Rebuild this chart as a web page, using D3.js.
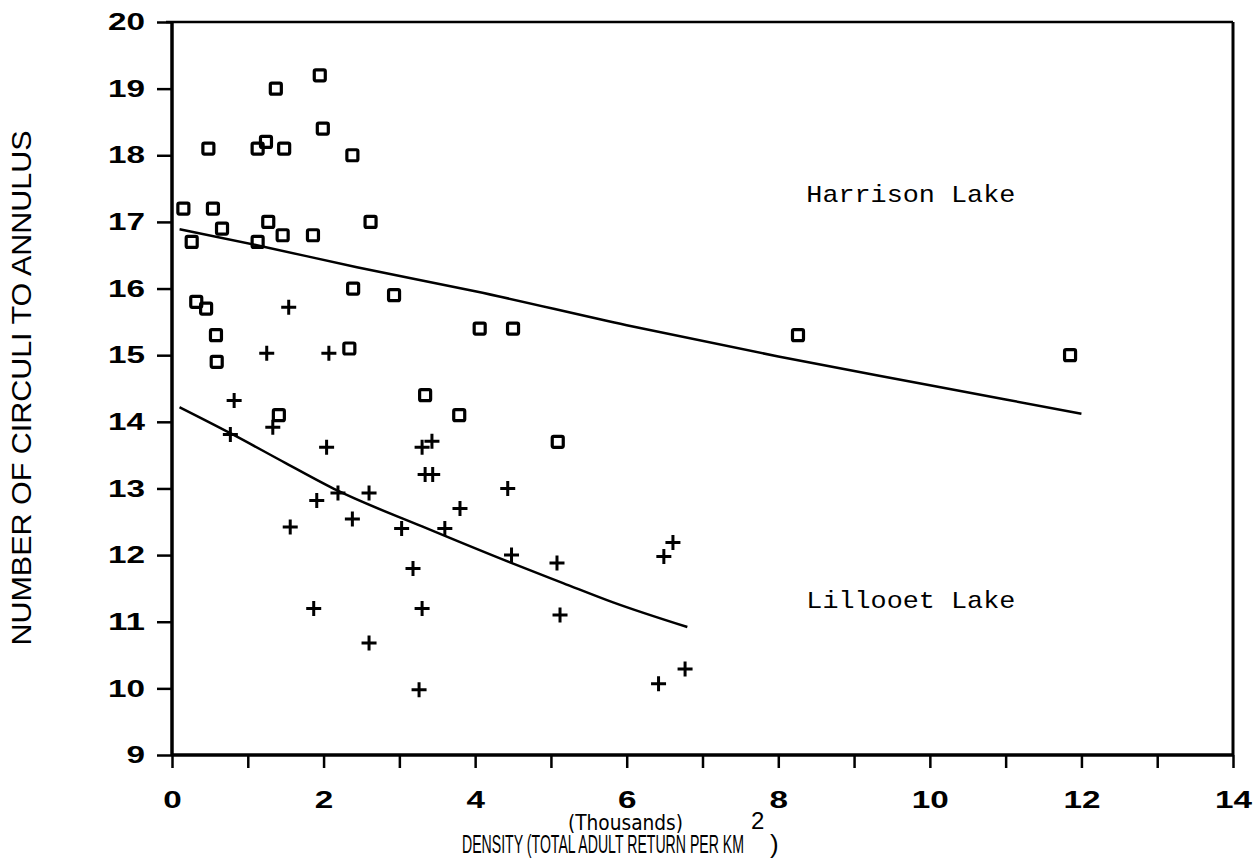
<!DOCTYPE html>
<html>
    <head>
        <script src="https://d3js.org/d3.v7.min.js"></script>
        <style>
            body { margin: 0; background: #fff; }
        </style>
    </head>
    <body>
        <svg class="chart"></svg>
    </body>
    <script>
        // Harrison Lake (squares)
        var harrisonX = [0.15, 0.26, 0.32, 0.45, 0.48, 0.54, 0.58, 0.59, 0.66, 1.13, 1.24, 1.13, 1.27, 1.37, 1.41, 1.48,
                         1.46, 1.86, 1.95, 1.99, 2.38, 2.39, 2.34, 2.62, 2.93, 3.34, 3.79, 4.06, 4.5, 5.09, 8.26, 11.85];
        var harrisonY = [17.2, 16.7, 15.8, 15.7, 18.1, 17.2, 15.3, 14.9, 16.9, 18.1, 18.2, 16.7, 17.0, 19.0, 14.1, 18.1,
                         16.8, 16.8, 19.2, 18.4, 18.0, 16.0, 15.1, 17.0, 15.9, 14.4, 14.1, 15.4, 15.4, 13.7, 15.3, 15.0];

        // Lillooet Lake (crosses)
        var lillooetX = [0.77, 0.82, 1.25, 1.54, 1.33, 2.07, 2.04, 1.91, 2.19, 2.38, 2.6, 1.56, 3.3, 3.43, 3.34, 3.44,
                         3.8, 3.6, 3.03, 3.18, 1.87, 3.3, 2.6, 3.26, 4.48, 5.08, 5.12, 4.43, 6.61, 6.49, 6.77, 6.42];
        var lillooetY = [13.81, 14.32, 15.03, 15.72, 13.92, 15.03, 13.62, 12.82, 12.93, 12.54, 12.93, 12.42, 13.62, 13.71, 13.21, 13.21,
                         12.7, 12.4, 12.4, 11.8, 11.2, 11.2, 10.68, 9.98, 12.0, 11.88, 11.1, 13.0, 12.19, 11.98, 10.29, 10.07];

        // fitted curves
        var harrisonFitX = [0.1, 1.12, 2.44, 4, 6, 8, 10, 12];
        var harrisonFitY = [16.89, 16.65, 16.32, 15.96, 15.45, 14.98, 14.55, 14.12];
        var lillooetFitX = [0.1, 0.77, 1.5, 2.18, 3.3, 4.46, 5.16, 5.82, 6.8];
        var lillooetFitY = [14.22, 13.83, 13.38, 12.97, 12.43, 11.89, 11.58, 11.29, 10.92];

        var xTicks = d3.range(0, 15, 1),
            xLabels = [0, 2, 4, 6, 8, 10, 12, 14],
            yTicks = [9, 10, 11, 12, 13, 14, 15, 16, 17, 18, 19, 20];

        var svgWidth = 1258, svgHeight = 859,
            margin = {top: 22, right: 25, bottom: 104, left: 172},
            width = svgWidth - margin.left - margin.right,
            height = svgHeight - margin.top - margin.bottom;

        var xScale = d3.scaleLinear().domain([0, 14]).range([0, width]),
            yScale = d3.scaleLinear().domain([9, 20]).range([height, 0]);

        var svg = d3.select(".chart")
                    .attr("width", svgWidth)
                    .attr("height", svgHeight);
        var g = svg.append("g")
                    .attr("transform", "translate(" + margin.left + "," + margin.top + ")");

        var tickFont = "'Liberation Sans', Arial, sans-serif";
        var digitW = 18.5;

        // x axis: tick every unit, labels every 2
        var xAxis = d3.axisBottom(xScale).tickValues(xTicks).tickSize(13)
                      .tickFormat(d => xLabels.indexOf(d) >= 0 ? d : "");
        var gx = g.append("g")
            .attr("transform", "translate(0," + height + ")")
            .call(xAxis);
        gx.select(".domain").remove();
        gx.selectAll(".tick line").attr("stroke", "#000").attr("stroke-width", 2.5);
        gx.selectAll(".tick text")
            .attr("y", 36).attr("dy", "0.71em")
            .attr("font-family", tickFont).attr("font-weight", "bold")
            .attr("font-size", 24).attr("fill", "#000")
            .filter(d => xLabels.indexOf(d) >= 0)
            .attr("textLength", d => String(d).length * digitW)
            .attr("lengthAdjust", "spacingAndGlyphs");

        var yAxis = d3.axisLeft(yScale).tickValues(yTicks).tickSize(15).tickPadding(12);
        var gy = g.append("g").call(yAxis);
        gy.select(".domain").remove();
        gy.selectAll(".tick line").attr("stroke", "#000").attr("stroke-width", 2.5);
        gy.selectAll(".tick text")
            .attr("font-family", tickFont).attr("font-weight", "bold")
            .attr("font-size", 24).attr("fill", "#000")
            .attr("textLength", d => String(d).length * digitW)
            .attr("lengthAdjust", "spacingAndGlyphs");

        // frame
        g.append("line").attr("x1", 0).attr("x2", 0).attr("y1", 0).attr("y2", height)
            .attr("stroke", "#000").attr("stroke-width", 3.5);
        g.append("line").attr("x1", 0).attr("x2", width).attr("y1", height).attr("y2", height)
            .attr("stroke", "#000").attr("stroke-width", 3.5);
        g.append("line").attr("x1", width).attr("x2", width).attr("y1", 0).attr("y2", height)
            .attr("stroke", "#000").attr("stroke-width", 3);
        g.append("line").attr("x1", -6).attr("x2", width).attr("y1", 0).attr("y2", 0)
            .attr("stroke", "#000").attr("stroke-width", 2.5);

        // fitted curves
        var line = d3.line()
            .x(d => xScale(d[0]))
            .y(d => yScale(d[1]))
            .curve(d3.curveMonotoneX);

        g.append("path")
            .datum(d3.zip(harrisonFitX, harrisonFitY))
            .attr("d", line)
            .attr("fill", "none").attr("stroke", "#000").attr("stroke-width", 2.5);
        g.append("path")
            .datum(d3.zip(lillooetFitX, lillooetFitY))
            .attr("d", line)
            .attr("fill", "none").attr("stroke", "#000").attr("stroke-width", 2.5);

        // squares
        var sq = 11;
        g.selectAll(".sq")
            .data(d3.zip(harrisonX, harrisonY)).enter().append("rect")
                .attr("class", "sq")
                .attr("x", d => xScale(d[0]) - sq / 2)
                .attr("y", d => yScale(d[1]) - sq / 2)
                .attr("width", sq).attr("height", sq)
                .attr("rx", 1.5)
                .attr("fill", "none").attr("stroke", "#000").attr("stroke-width", 3.2);

        // crosses
        var cr = 7.5;
        g.selectAll(".cross")
            .data(d3.zip(lillooetX, lillooetY)).enter().append("path")
                .attr("class", "cross")
                .attr("d", d => {
                    var cx = xScale(d[0]), cy = yScale(d[1]);
                    return "M" + (cx - cr) + "," + cy + "H" + (cx + cr) +
                           "M" + cx + "," + (cy - cr) + "V" + (cy + cr);
                })
                .attr("fill", "none").attr("stroke", "#000").attr("stroke-width", 3);

        // lake labels
        var labelFont = "'Liberation Mono', 'Courier New', monospace";
        g.append("text")
            .attr("x", xScale(8.37)).attr("y", yScale(17.0) - 20)
            .attr("font-family", labelFont).attr("font-size", 24)
            .attr("textLength", 209).attr("lengthAdjust", "spacingAndGlyphs")
            .text("Harrison Lake");
        g.append("text")
            .attr("x", xScale(8.37)).attr("y", yScale(11.0) - 14)
            .attr("font-family", labelFont).attr("font-size", 24)
            .attr("textLength", 209).attr("lengthAdjust", "spacingAndGlyphs")
            .text("Lillooet Lake");

        // axis titles
        var titleFont = "'Liberation Sans Narrow', 'Liberation Sans', Arial, sans-serif";
        svg.append("text")
            .attr("transform", "translate(31,388) rotate(-90)")
            .attr("text-anchor", "middle")
            .attr("font-family", titleFont).attr("font-size", 27)
            .attr("textLength", 515).attr("lengthAdjust", "spacingAndGlyphs")
            .text("NUMBER OF CIRCULI TO ANNULUS");

        svg.append("text")
            .attr("x", 568).attr("y", 830)
            .attr("font-family", "'DejaVu Sans', sans-serif").attr("font-size", 21)
            .attr("textLength", 115).attr("lengthAdjust", "spacingAndGlyphs")
            .text("(Thousands)");

        svg.append("text")
            .attr("x", 462).attr("y", 853)
            .attr("font-family", titleFont).attr("font-size", 26)
            .attr("textLength", 282).attr("lengthAdjust", "spacingAndGlyphs")
            .text("DENSITY (TOTAL ADULT RETURN PER KM");
        svg.append("text")
            .attr("x", 751).attr("y", 829)
            .attr("font-family", titleFont).attr("font-size", 24)
            .text("2");
        svg.append("text")
            .attr("x", 770).attr("y", 853)
            .attr("font-family", titleFont).attr("font-size", 26)
            .text(")");
    </script>
</html>
